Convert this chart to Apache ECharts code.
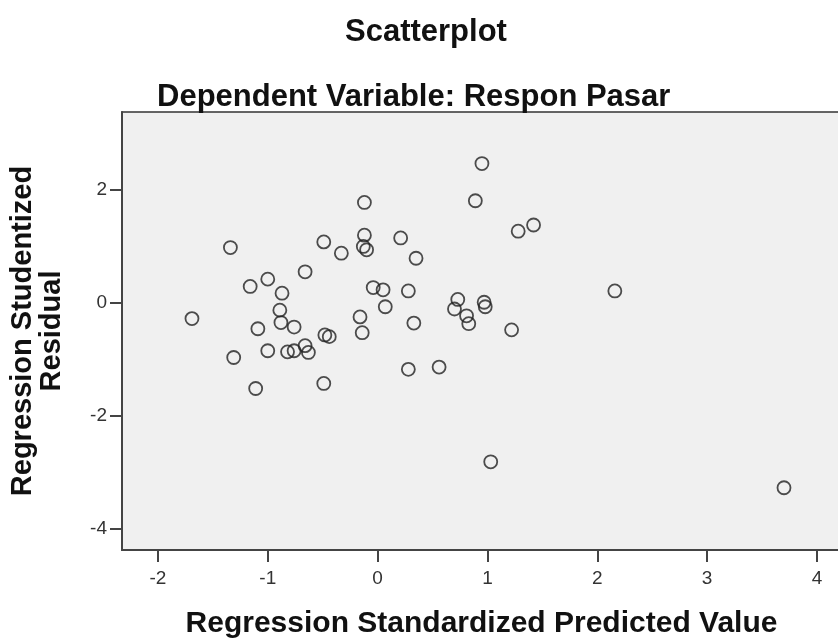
<!DOCTYPE html>
<html>
<head>
<meta charset="utf-8">
<title>Scatterplot</title>
<script src="https://cdn.jsdelivr.net/npm/echarts@6/dist/echarts.min.js"></script>
<style>
  html, body { margin: 0; padding: 0; background: #fff; }
  #chart { width: 838px; height: 639px; }
</style>
</head>
<body>
<div id="chart"></div>
<script>
// Regression standardized predicted value (x) and studentized residual (y)
const predicted = [
    -1.69, -1.34, -1.31, -1.16, -1.09, -1.11, -1.00, -1.00, -0.87, -0.89,
    -0.88, -0.76, -0.82, -0.76, -0.66, -0.63, -0.66, -0.49, -0.48, -0.44,
    -0.49, -0.33, -0.12, -0.12, -0.13, -0.10, -0.16, -0.14, -0.04, 0.05,
    0.07, 0.21, 0.28, 0.33, 0.35, 0.28, 0.56, 0.73, 0.70, 0.81,
    0.83, 0.97, 0.98, 1.22, 0.95, 0.89, 1.28, 1.42, 2.16, 1.03,
    3.70
];
const residual = [
    -0.28, 0.98, -0.97, 0.29, -0.46, -1.52, 0.42, -0.85, 0.17, -0.13,
    -0.35, -0.43, -0.87, -0.85, -0.76, -0.88, 0.55, 1.08, -0.57, -0.60,
    -1.43, 0.88, 1.78, 1.20, 1.00, 0.94, -0.25, -0.53, 0.27, 0.23,
    -0.07, 1.15, 0.21, -0.36, 0.79, -1.18, -1.14, 0.06, -0.11, -0.23,
    -0.37, 0.01, -0.07, -0.48, 2.47, 1.81, 1.27, 1.38, 0.21, -2.82,
    -3.28
];

const xTicks = [-2, -1, 0, 1, 2, 3, 4];
const yTicks = [2, 0, -2, -4];

const points = predicted.map((x, i) => [x, residual[i]]);

const chart = echarts.init(document.getElementById('chart'));

const fontFamily = '"Liberation Sans", Arial, sans-serif';

chart.setOption({
    animation: false,
    backgroundColor: '#ffffff',
    title: [
        {
            text: 'Scatterplot',
            left: 340,
            top: 12,
            textStyle: { fontFamily, fontSize: 31, fontWeight: 'bold', color: '#111' }
        },
        {
            text: 'Dependent Variable: Respon Pasar',
            left: 152,
            top: 77,
            textStyle: { fontFamily, fontSize: 31, fontWeight: 'bold', color: '#111' }
        }
    ],
    grid: {
        left: 122,
        top: 112,
        right: -3,
        bottom: 89,
        containLabel: false,
        outerBoundsMode: 'none',
        show: true,
        backgroundColor: '#f0f0f0',
        borderColor: '#333',
        borderWidth: 1.5
    },
    xAxis: {
        type: 'value',
        min: -2.327,
        max: 4.219,
        name: 'Regression Standardized Predicted Value',
        nameLocation: 'middle',
        nameGap: 59,
        nameTextStyle: { fontFamily, fontSize: 30, fontWeight: 'bold', color: '#111' },
        axisLine: { show: true, onZero: false, lineStyle: { color: '#444', width: 2 } },
        axisTick: { show: true, length: 12, customValues: xTicks, lineStyle: { color: '#444', width: 2 } },
        axisLabel: { customValues: xTicks, fontFamily, fontSize: 19, color: '#333', margin: 19 },
        splitLine: { show: false }
    },
    yAxis: {
        type: 'value',
        min: -4.384,
        max: 3.384,
        name: 'Regression Studentized\nResidual',
        nameLocation: 'middle',
        nameGap: 56,
        nameTextStyle: { fontFamily, fontSize: 29, fontWeight: 'bold', color: '#111', lineHeight: 29 },
        axisLine: { show: true, onZero: false, lineStyle: { color: '#444', width: 2 } },
        axisTick: { show: true, length: 12, customValues: yTicks, lineStyle: { color: '#444', width: 2 } },
        axisLabel: { customValues: yTicks, fontFamily, fontSize: 19, color: '#333', margin: 15 },
        splitLine: { show: false }
    },
    series: [{
        type: 'scatter',
        data: points,
        symbol: 'circle',
        symbolSize: 13,
        itemStyle: {
            color: 'transparent',
            borderColor: '#222',
            borderWidth: 1.8
        }
    }]
});
</script>
</body>
</html>
